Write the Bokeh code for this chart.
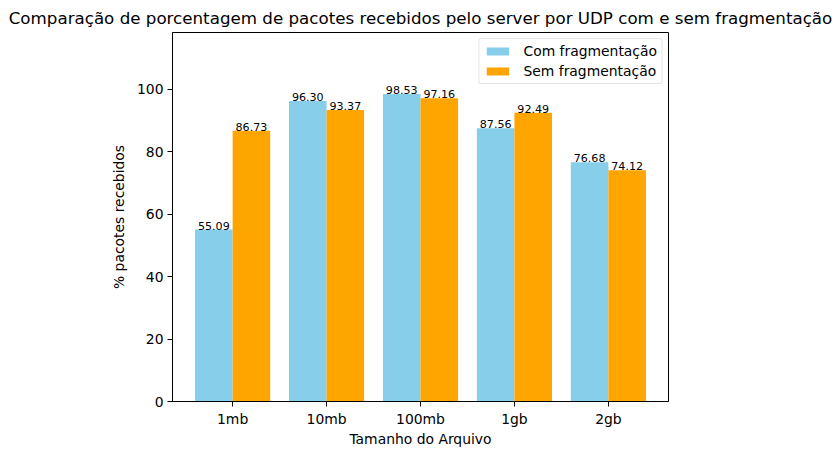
from bokeh.plotting import figure
from bokeh.models import ColumnDataSource, FactorRange, Legend, LegendItem, FixedTicker
from bokeh.transform import dodge
from bokeh.core.properties import value
from bokeh.embed import file_html
from bokeh.resources import INLINE

categories = ["1mb", "10mb", "100mb", "1gb", "2gb"]
com_frag = [55.09, 96.30, 98.53, 87.56, 76.68]
sem_frag = [86.73, 93.37, 97.16, 92.49, 74.12]
series_names = ["Com fragmentação", "Sem fragmentação"]
y_ticks = [0, 20, 40, 60, 80, 100]

FONT = "DejaVu Sans"
src = ColumnDataSource(dict(
    cat=categories,
    com=com_frag,
    sem=sem_frag,
    com_txt=["%.2f" % v for v in com_frag],
    sem_txt=["%.2f" % v for v in sem_frag],
))

ymax = max(max(com_frag), max(sem_frag)) * 1.2
p = figure(width=839, height=455, output_backend="svg", toolbar_location=None,
           x_range=FactorRange(factors=categories, range_padding=0.056, range_padding_units="percent"),
           y_range=(0, ymax),
           min_border_left=172, min_border_right=171, min_border_top=32, min_border_bottom=54)

p.title.text = "Comparação de porcentagem de pacotes recebidos pelo server por UDP com e sem fragmentação"
p.title.align = "center"
p.title.text_font = FONT
p.title.text_font_size = "16.7px"
p.title.text_font_style = "normal"
p.title.text_color = "black"

r1 = p.vbar(x=dodge("cat", -0.2, range=p.x_range), top="com", width=0.4, source=src,
            fill_color="#87CEEB", line_color=None)
r2 = p.vbar(x=dodge("cat", 0.2, range=p.x_range), top="sem", width=0.4, source=src,
            fill_color="#FFA500", line_color=None)

for off, col, txt in [(-0.2, "com", "com_txt"), (0.2, "sem", "sem_txt")]:
    p.text(x=dodge("cat", off, range=p.x_range), y=col, text=txt, source=src,
           text_align="center", text_baseline="bottom", text_font=value(FONT),
           text_font_size="11.1px", text_color="black")

p.xgrid.visible = False
p.ygrid.visible = False
p.outline_line_color = "black"
p.outline_line_width = 1
p.background_fill_color = "white"
p.border_fill_color = "white"

for ax in (p.xaxis[0], p.yaxis[0]):
    ax.major_tick_in = 0
    ax.major_tick_out = 5
    ax.minor_tick_line_color = None
    ax.axis_line_color = "black"
    ax.major_tick_line_color = "black"
    ax.major_label_text_font = FONT
    ax.major_label_text_font_size = "13.9px"
    ax.major_label_text_color = "black"
    ax.axis_label_text_font = FONT
    ax.axis_label_text_font_size = "13.9px"
    ax.axis_label_text_font_style = "normal"
    ax.axis_label_text_color = "black"
    ax.major_label_standoff = 4

p.yaxis[0].ticker = FixedTicker(ticks=y_ticks)
p.xaxis.axis_label = "Tamanho do Arquivo"
p.yaxis.axis_label = "% pacotes recebidos"
p.xaxis[0].axis_label_standoff = 1
p.yaxis[0].axis_label_standoff = 7

legend = Legend(items=[LegendItem(label=series_names[0], renderers=[r1]),
                       LegendItem(label=series_names[1], renderers=[r2])],
                location="top_right")
legend.label_text_font = FONT
legend.label_text_font_size = "13.9px"
legend.label_text_color = "black"
legend.glyph_width = 28
legend.glyph_height = 10
legend.label_height = 14
legend.spacing = 4
legend.padding = 4
legend.margin = 6
legend.label_standoff = 12
legend.border_line_color = "#cccccc"
legend.border_line_width = 1
legend.background_fill_alpha = 0.8
try:
    legend.border_radius = 3
except Exception:
    pass
p.add_layout(legend)

open("out.html", "w").write(file_html(p, INLINE))
